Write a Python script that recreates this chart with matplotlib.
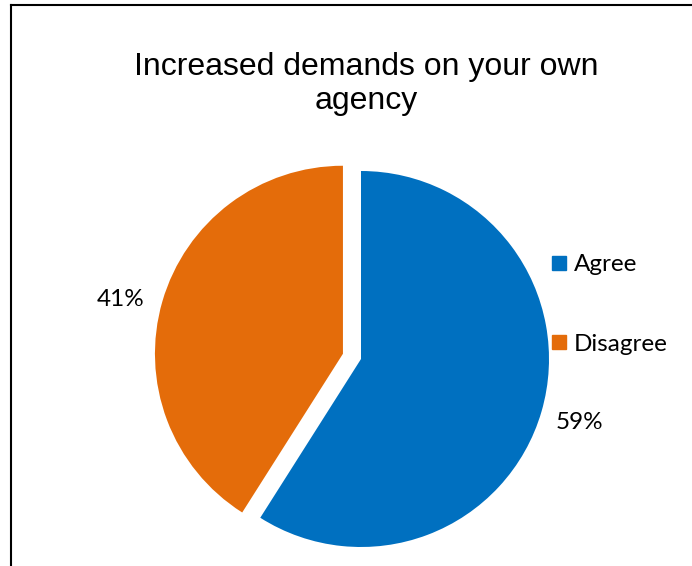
import matplotlib
matplotlib.use("Agg")
import matplotlib.pyplot as plt
from matplotlib.lines import Line2D

# Survey answers
labels = ["Agree", "Disagree"]
shares = [59, 41]
colors = ["#0070C0", "#E46C0A"]
explode = [0, 0.1]

W, H = 692, 566
fig = plt.figure(figsize=(W / 100, H / 100), dpi=100)

# pie axes: centre at (361, 207) px, radius 188 px
lim = 1.3
side = 2 * lim * 188
ax = fig.add_axes([(361 - side / 2) / W, (207 - side / 2) / H, side / W, side / H])
wedges, texts, autotexts = ax.pie(
    shares, colors=colors, explode=explode, startangle=90, counterclock=False,
    autopct=lambda p: f"{round(p):.0f}%", pctdistance=1.21, radius=1,
    textprops=dict(fontsize=17.5, family="Lato", color="#000000"),
)
# the smaller slice's label sits a little lower and further out
x, y = autotexts[1].get_position()
autotexts[1].set_position((x - 0.02, y - 0.048))
ax.set_xlim(-lim, lim)
ax.set_ylim(-lim, lim)
ax.set_aspect("equal")
ax.axis("off")

fig.text(366 / W, 1 - 84 / H, "Increased demands on your own\nagency",
         ha="center", va="center", fontsize=23, family="Liberation Sans",
         linespacing=1.15)

handles = [Line2D([], [], marker="s", linestyle="none", markersize=10,
                  markerfacecolor=c, markeredgecolor=c) for c in colors]
fig.legend(handles, labels, loc="upper left", bbox_to_anchor=(540 / W, 1 - 242 / H),
           frameon=False, prop=dict(family="Lato", size=17.5), labelspacing=2.4,
           handlelength=0.6, handletextpad=0.28, borderpad=0)

# chart frame (left and top edges)
fig.add_artist(Line2D([10.5 / W, 10.5 / W], [0, 1 - 4.5 / H], color="black", lw=1.5,
                      transform=fig.transFigure))
fig.add_artist(Line2D([10.5 / W, 1], [1 - 4.5 / H, 1 - 4.5 / H], color="black", lw=1.5,
                      transform=fig.transFigure))

fig.savefig("out.png", dpi=100)
